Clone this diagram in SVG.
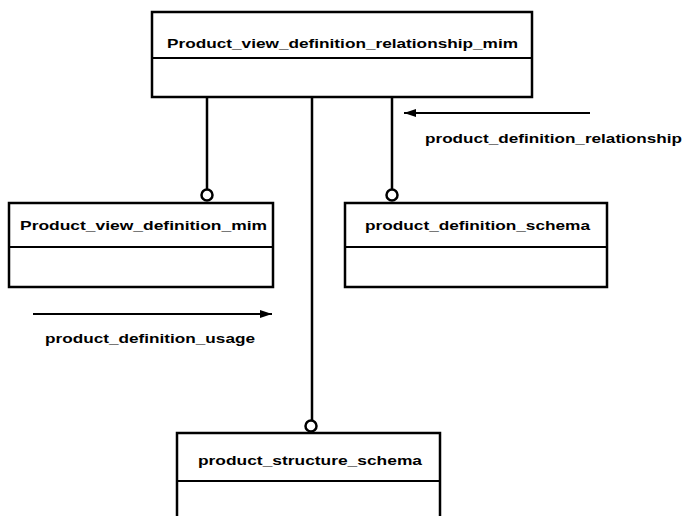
<svg xmlns="http://www.w3.org/2000/svg" width="683" height="516" viewBox="0 0 683 516">
<defs>
<marker id="ah" viewBox="0 0 12 8" refX="12" refY="4" markerWidth="13" markerHeight="8" orient="auto" markerUnits="userSpaceOnUse">
<path d="M0,0 L12,4 L0,8 Z" fill="#000"/>
</marker>
</defs>
<style>
.box{fill:#fff;stroke:#000;stroke-width:2.5}
.div{stroke:#000;stroke-width:2}
.lbl{font-family:"Liberation Sans",Arial,sans-serif;font-weight:bold;font-size:13.5px;fill:#000}
.conn{stroke:#000;stroke-width:2.5;fill:none}
.arr{stroke:#000;stroke-width:2;fill:none}
.ring{fill:#fff;stroke:#000;stroke-width:2.5}
</style>
<rect width="683" height="516" fill="#fff"/>
<g id="connectors">
<line class="conn" x1="207" y1="97" x2="207" y2="189"/>
<line class="conn" x1="312" y1="97" x2="312" y2="420"/>
<line class="conn" x1="392" y1="97" x2="392" y2="189"/>
<circle class="ring" cx="207" cy="195" r="5.5"/>
<circle class="ring" cx="392" cy="195" r="5.5"/>
<circle class="ring" cx="311" cy="426" r="5.5"/>
<line class="arr" x1="33" y1="314" x2="272" y2="314" marker-end="url(#ah)"/>
<line class="arr" x1="590" y1="113" x2="404" y2="113" marker-end="url(#ah)"/>
<text class="lbl" x="45" y="343" textLength="210" lengthAdjust="spacingAndGlyphs">product_definition_usage</text>
<text class="lbl" x="425" y="143" textLength="257" lengthAdjust="spacingAndGlyphs">product_definition_relationship</text>
</g>
<g id="node-top">
<rect class="box" x="152" y="12" width="380" height="85"/>
<line class="div" x1="152" y1="58" x2="532" y2="58"/>
<text class="lbl" x="167" y="48" textLength="351" lengthAdjust="spacingAndGlyphs">Product_view_definition_relationship_mim</text>
</g>
<g id="node-left">
<rect class="box" x="9" y="203" width="264" height="84"/>
<line class="div" x1="9" y1="247" x2="273" y2="247"/>
<text class="lbl" x="20" y="230" textLength="247" lengthAdjust="spacingAndGlyphs">Product_view_definition_mim</text>
</g>
<g id="node-right">
<rect class="box" x="345" y="203" width="262" height="84"/>
<line class="div" x1="345" y1="247" x2="607" y2="247"/>
<text class="lbl" x="365" y="230" textLength="225" lengthAdjust="spacingAndGlyphs">product_definition_schema</text>
</g>
<g id="node-bottom">
<rect class="box" x="177" y="433" width="263" height="100"/>
<line class="div" x1="177" y1="481" x2="440" y2="481"/>
<text class="lbl" x="198" y="465" textLength="224" lengthAdjust="spacingAndGlyphs">product_structure_schema</text>
</g>
</svg>
